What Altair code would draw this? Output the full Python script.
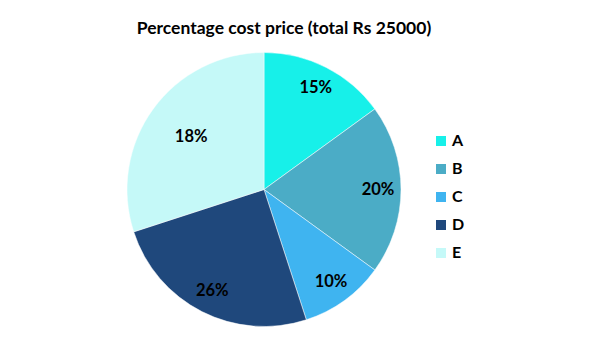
import altair as alt
import pandas as pd

categories = ["A", "B", "C", "D", "E"]
shares = [15, 20, 10, 25, 30]          # slice sizes as drawn
labels = ["15%", "20%", "10%", "26%", "18%"]  # printed labels
colors = ["#17F0E9", "#4BACC6", "#3FB4F0", "#1F487C", "#C5F9F8"]
title_text = "Percentage cost price (total Rs 25000)"

df = pd.DataFrame({"cat": categories, "share": shares, "label": labels,
                   "order": list(range(len(categories)))})

FONT = "Lato"
CX, CY, R = 264, 189.5, 137

base = alt.Chart(df).encode(
    theta=alt.Theta("share:Q", stack=True),
    order=alt.Order("order:O"),
)

pie = base.mark_arc(stroke="white", strokeWidth=0.5).encode(
    x=alt.value(CX), y=alt.value(CY),
    radius=alt.value(R),
    color=alt.Color("cat:N", scale=alt.Scale(domain=categories, range=colors),
                    legend=alt.Legend(title=None, orient="none", legendX=433, legendY=133,
                                      symbolType="square", symbolSize=100,
                                      symbolStrokeWidth=0,
                                      labelFont=FONT, labelFontSize=16, labelFontWeight="bold",
                                      labelColor="black", rowPadding=12, labelOffset=3)),
)

txt_main = base.mark_text(font=FONT, fontSize=16.5, fontWeight="bold", color="black").encode(
    x=alt.value(CX), y=alt.value(CY),
    radius=alt.value(114),
    text="label:N",
    opacity=alt.condition(alt.datum.cat != "E", alt.value(1), alt.value(0)),
)
txt_e = base.mark_text(font=FONT, fontSize=16.5, fontWeight="bold", color="black").encode(
    x=alt.value(CX), y=alt.value(CY),
    radius=alt.value(90),
    text="label:N",
    opacity=alt.condition(alt.datum.cat == "E", alt.value(1), alt.value(0)),
)

title = alt.Chart(pd.DataFrame({"t": [title_text]})).mark_text(
    font=FONT, fontSize=17.5, fontWeight="bold", color="black"
).encode(x=alt.value(284), y=alt.value(29), text="t:N")

chart = alt.layer(pie, txt_main, txt_e, title).properties(
    width=606, height=351, autosize=alt.AutoSizeParams(type="none"), padding=0
).configure_view(stroke=None)

chart.save("out.html", embed_options={"renderer": "svg", "actions": False})
